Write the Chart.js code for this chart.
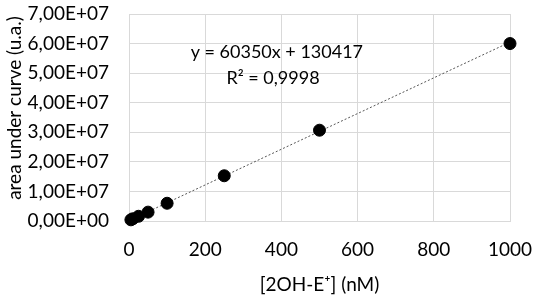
<!DOCTYPE html>
<html>
<head>
<meta charset="utf-8">
<script src="https://cdn.jsdelivr.net/npm/chart.js@4/dist/chart.umd.min.js"></script>
<style>
html,body{margin:0;padding:0;background:#fff;}
#c{display:block;}
</style>
</head>
<body>
<canvas id="c" width="533" height="296"></canvas>
<script>
const concentrations = [5, 10, 25, 50, 100, 250, 500, 1000];
const areas = [4.0e5, 7.5e5, 1.6e6, 3.0e6, 6.0e6, 1.53e7, 3.07e7, 6.0e7];
const trendX = [5, 1000];
const trendY = [432167, 60480417];
const equationText = "y = 60350x + 130417";
const r2Text = "R² = 0,9998";
const xTitle = "[2OH-E⁺] (nM)";
const yTitle = "area under curve (u.a.)";

const FONT = "Lato, 'Open Sans', sans-serif";

function fmtSci(v) {
  if (v === 0) return "0,00E+00";
  const e = Math.floor(Math.log10(Math.abs(v)) + 1e-9);
  const m = v / Math.pow(10, e);
  const es = (e < 0 ? "-" : "+") + String(Math.abs(e)).padStart(2, "0");
  return m.toFixed(2).replace(".", ",") + "E" + es;
}

const annot = {
  id: "annot",
  afterDatasetsDraw(chart) {
    const ctx = chart.ctx;
    const xs = chart.scales.x, ys = chart.scales.y;
    ctx.save();
    ctx.fillStyle = "#000";
    ctx.font = "18px " + FONT;
    ctx.textAlign = "center";
    ctx.textBaseline = "middle";
    ctx.fillText(equationText, xs.getPixelForValue(388), ys.getPixelForValue(5.71e7));
    ctx.fillText(r2Text, xs.getPixelForValue(378), ys.getPixelForValue(4.83e7));
    // y axis title
    ctx.font = "19px " + FONT;
    ctx.translate(15, 108);
    ctx.rotate(-Math.PI / 2);
    ctx.fillText(yTitle, 0, 0);
    ctx.restore();
  }
};

new Chart(document.getElementById("c"), {
  type: "scatter",
  data: {
    datasets: [
      {
        label: "data",
        data: concentrations.map((x, i) => ({x: x, y: areas[i]})),
        backgroundColor: "#000",
        borderColor: "#000",
        pointRadius: 6,
        pointHoverRadius: 6,
        clip: false,
        order: 1
      },
      {
        label: "trend",
        type: "line",
        data: trendX.map((x, i) => ({x: x, y: trendY[i]})),
        borderColor: "#555",
        borderWidth: 1,
        borderDash: [2, 2],
        pointRadius: 0,
        fill: false,
        order: 2
      }
    ]
  },
  options: {
    responsive: false,
    animation: false,
    devicePixelRatio: 1,
    layout: {padding: {left: 0, right: 23, top: 14, bottom: 0}},
    plugins: {legend: {display: false}, tooltip: {enabled: false}},
    scales: {
      x: {
        type: "linear",
        min: 0, max: 1000,
        afterFit(s) { s.height = 75; s.paddingRight = 23; s.paddingLeft = 0; },
        ticks: {stepSize: 200, color: "#000", font: {family: FONT, size: 19}, padding: 17, maxRotation: 0, callback: v => String(v)},
        grid: {color: "#d9d9d9", lineWidth: 1, drawTicks: false},
        border: {color: "#d9d9d9"},
        title: {display: true, text: xTitle, color: "#000", font: {family: FONT, size: 19}, padding: {top: 0, bottom: 0}}
      },
      y: {
        type: "linear",
        min: 0, max: 7e7,
        afterFit(s) { s.width = 129; s.paddingTop = 14; s.paddingBottom = 0; },
        ticks: {stepSize: 1e7, color: "#000", font: {family: FONT, size: 19}, padding: 20, callback: v => fmtSci(v)},
        grid: {color: "#d9d9d9", lineWidth: 1, drawTicks: false},
        border: {color: "#d9d9d9"},
        title: {display: false, text: yTitle}
      }
    }
  },
  plugins: [annot]
});
</script>
</body>
</html>
